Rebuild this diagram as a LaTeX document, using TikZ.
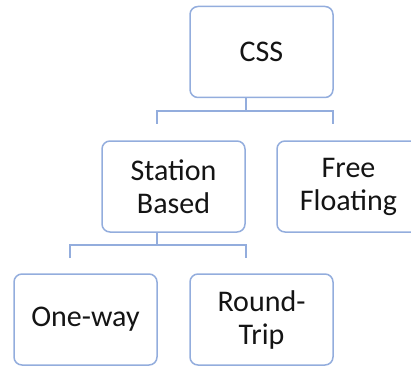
\documentclass[tikz,border=0pt]{standalone}
\usepackage{fontspec}
\setmainfont{Carlito}
\definecolor{boxline}{HTML}{93ADDD}
\definecolor{labeltext}{HTML}{141414}
\tikzset{
  orgbox/.style={draw=boxline, line width=1.5pt, rounded corners=8pt,
    minimum width=143pt, minimum height=91pt, inner sep=0pt,
    align=center, font=\fontsize{30}{33}\selectfont, text=labeltext},
  link/.style={draw=boxline, line width=1.5pt}
}
\begin{document}
\begin{tikzpicture}[x=1pt,y=-1pt]
  \useasboundingbox (0,0) rectangle (411,366);
  \begin{scope}
    \clip (0,0) rectangle (411,366);
    \node[orgbox] (css) at (261.5,52) {CSS};
    \node[orgbox] (station) at (173.5,186.5) {Station\\Based};
    \node[orgbox] (free) at (348.5,186.5) {Free\\Floating};
    \node[orgbox] (oneway) at (85.5,319.5) {One-way};
    \node[orgbox] (round) at (261.5,319.5) {Round-\\Trip};
  \end{scope}
  % branch below CSS
  \coordinate (cssjoin) at (246,111);
  \coordinate (lefttop) at (157,111);
  \coordinate (righttop) at (333,111);
  \coordinate (leftend) at (157,124);
  \coordinate (rightend) at (333,124);
  \draw[link] (css.south -| cssjoin) -- (cssjoin);
  \draw[link] (leftend) -- (lefttop) -- (righttop) -- (rightend);
  % branch below Station Based
  \coordinate (sbjoin) at (157,245);
  \coordinate (sbleft) at (70,245);
  \coordinate (sbright) at (246,245);
  \coordinate (sbleftend) at (70,258);
  \coordinate (sbrightend) at (246,258);
  \draw[link] (station.south -| sbjoin) -- (sbjoin);
  \draw[link] (sbleftend) -- (sbleft) -- (sbright) -- (sbrightend);
\end{tikzpicture}
\end{document}
